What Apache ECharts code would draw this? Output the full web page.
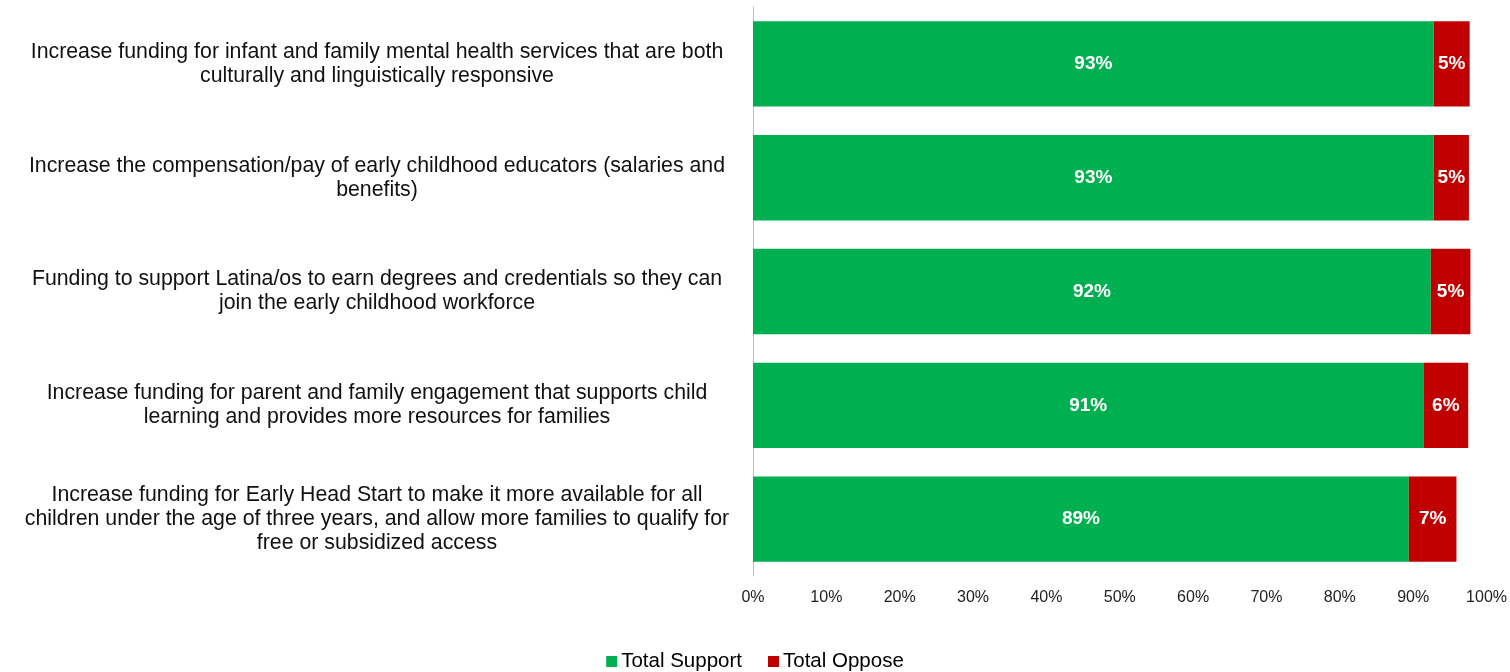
<!DOCTYPE html>
<html>
<head>
<meta charset="utf-8">
<script src="https://cdn.jsdelivr.net/npm/echarts@6/dist/echarts.min.js"></script>
<style>html,body{margin:0;padding:0;background:#fff}#c{width:1510px;height:672px}</style>
</head>
<body>
<div id="c"></div>
<script>
const categories = [
  "Increase funding for infant and family mental health services that are both\nculturally and linguistically responsive",
  "Increase the compensation/pay of early childhood educators (salaries and\nbenefits)",
  "Funding to support Latina/os to earn degrees and credentials so they can\njoin the early childhood workforce",
  "Increase funding for parent and family engagement that supports child\nlearning and provides more resources for families",
  "Increase funding for Early Head Start to make it more available for all\nchildren under the age of three years, and allow more families to qualify for\nfree or subsidized access"
];
const totalSupport = [92.8, 92.8, 92.4, 91.4, 89.4];
const totalOppose = [4.9, 4.8, 5.4, 6.1, 6.5];
const xTicks = [0, 10, 20, 30, 40, 50, 60, 70, 80, 90, 100];

const chart = echarts.init(document.getElementById('c'));
const font = "'Liberation Sans', Arial, sans-serif";
chart.setOption({
  animation: false,
  textStyle: { fontFamily: font },
  grid: { left: 753, right: 23, top: 7, bottom: 96, containLabel: false },
  legend: {
    bottom: 0, left: 'center', padding: 0,
    itemWidth: 11, itemHeight: 11, itemGap: 26,
    icon: 'rect',
    textStyle: { fontSize: 20.5, color: '#000', fontFamily: font, padding: [0,0,0,-1] },
    data: ['Total Support', 'Total Oppose']
  },
  xAxis: {
    type: 'value', min: 0, max: 100, interval: 10,
    axisLine: { show: false }, axisTick: { show: false }, splitLine: { show: false },
    axisLabel: { formatter: v => v + '%', fontSize: 16, color: '#222', margin: 14, fontFamily: font }
  },
  yAxis: {
    type: 'category', inverse: true, data: categories,
    axisLine: { show: true, lineStyle: { color: '#bfbfbf', width: 1 } },
    axisTick: { show: false },
    axisLabel: { align: 'center', margin: 376, fontSize: 21.3, lineHeight: 24, color: '#111', fontFamily: font }
  },
  series: [
    {
      name: 'Total Support', type: 'bar', stack: 's', data: totalSupport, barCategoryGap: '25%',
      itemStyle: { color: '#00B050' },
      label: { show: true, position: 'inside', color: '#fff', fontWeight: 'bold', fontSize: 19, fontFamily: font, formatter: p => Math.round(p.value) + '%' }
    },
    {
      name: 'Total Oppose', type: 'bar', stack: 's', data: totalOppose,
      itemStyle: { color: '#C00000' },
      label: { show: true, position: 'inside', color: '#fff', fontWeight: 'bold', fontSize: 19, fontFamily: font, formatter: p => Math.round(p.value) + '%' }
    }
  ]
});
</script>
</body>
</html>
